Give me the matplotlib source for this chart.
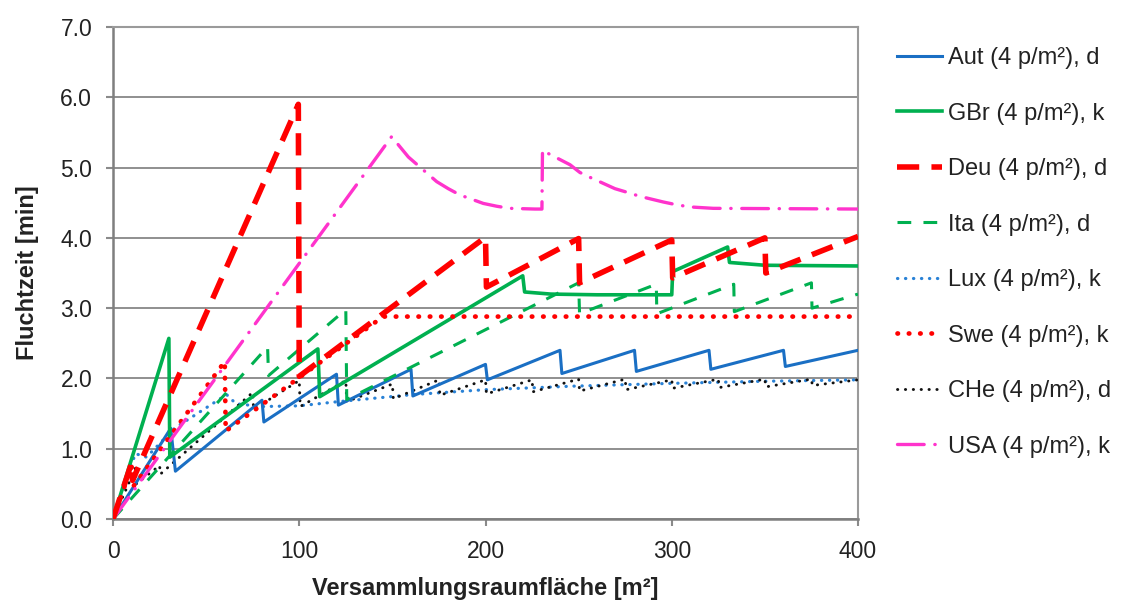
import matplotlib
matplotlib.use("Agg")
import matplotlib.pyplot as plt

plt.rcParams['font.family'] = ['Liberation Sans', 'DejaVu Sans']

# --- data (area in m², time in min) ---
aut_x = [0, 31, 33.5, 80, 81, 120, 121, 160, 161, 200, 201, 240, 241, 280, 281, 320, 321, 360, 361, 400]
aut_y = [0, 1.29, 0.68, 1.69, 1.38, 2.06, 1.62, 2.13, 1.75, 2.2, 1.98, 2.4, 2.07, 2.4, 2.1, 2.4, 2.13, 2.4, 2.17, 2.4]

gbr_x = [0, 30, 30.5, 110, 111, 220, 221, 235, 260, 300, 300.5, 330, 331, 350, 400]
gbr_y = [0, 2.57, 0.88, 2.42, 1.74, 3.46, 3.23, 3.2, 3.19, 3.19, 3.52, 3.87, 3.65, 3.61, 3.6]

deu_x = [0, 10, 10.5, 99.5, 100, 200, 200.5, 250, 250.5, 300, 300.5, 350, 350.5, 400]
deu_y = [0, 0.8, 0.55, 5.9, 2.03, 4.01, 3.3, 3.99, 3.36, 3.97, 3.43, 4.0, 3.5, 4.02]

ita_x = [0, 83, 83.5, 125, 125.5, 250, 250.5, 291.7, 292, 333.3, 333.6, 375, 375.3, 400]
ita_y = [0, 2.45, 2.04, 2.98, 1.7, 3.36, 2.92, 3.34, 2.92, 3.34, 2.95, 3.36, 3.0, 3.2]

lux_x = [0, 12, 18, 33, 61, 66, 80, 100, 121, 161, 200, 247, 300, 350, 400]
lux_y = [0, 0.93, 0.88, 1.29, 1.77, 1.64, 1.6, 1.61, 1.67, 1.77, 1.84, 1.89, 1.93, 1.96, 1.98]

swe_x = [0, 10, 10.5, 60, 60.5, 145, 400]
swe_y = [0, 0.75, 0.45, 2.24, 1.25, 2.88, 2.88]

che_x = [0, 12, 12.5, 25, 25.5, 75, 75.5, 100, 100.5, 125, 125.5, 150, 150.5, 175, 175.5,
         200, 200.5, 225, 225.5, 250, 250.5, 275, 275.5, 300, 300.5, 325, 325.5, 350, 350.5,
         375, 375.5, 400]
che_y = [0, 0.72, 0.5, 0.76, 0.64, 1.8, 1.56, 1.97, 1.6, 1.97, 1.67, 1.92, 1.71, 1.98, 1.76,
         1.98, 1.78, 1.98, 1.81, 1.99, 1.82, 1.99, 1.84, 1.98, 1.86, 1.99, 1.87, 1.99, 1.88,
         1.99, 1.9, 1.98]

usa_x = [0, 149.6, 158.6, 173.8, 180, 186.3, 198.8, 206, 213, 226.6, 230.3, 230.6, 233.7,
         245.4, 250.7, 257, 269.5, 275.8, 283, 295.5, 302.7, 309.8, 322.3, 400]
usa_y = [0, 5.44, 5.15, 4.8, 4.7, 4.61, 4.49, 4.45, 4.42, 4.41, 4.41, 5.25, 5.2,
         5.04, 4.93, 4.85, 4.7, 4.65, 4.59, 4.51, 4.47, 4.44, 4.42, 4.41]

labels = ["Aut (4 p/m²), d", "GBr (4 p/m²), k", "Deu (4 p/m²), d", "Ita (4 p/m²), d",
          "Lux (4 p/m²), k", "Swe (4 p/m²), k", "CHe (4 p/m²), d", "USA (4 p/m²), k"]

y_ticks = [0, 1, 2, 3, 4, 5, 6, 7]
x_ticks = [0, 100, 200, 300, 400]

# --- figure ---
fig = plt.figure(figsize=(11.21, 6.03), dpi=100)
ax = fig.add_axes([113 / 1121, 1 - 519 / 603, 745 / 1121, 492 / 603])

ax.plot(aut_x, aut_y, color='#1a6fc4', lw=2.2, label=labels[0], zorder=4)
ax.plot(gbr_x, gbr_y, color='#00b050', lw=2.6, label=labels[1], zorder=4)
ax.plot(deu_x, deu_y, color='#ff0000', lw=4.0, dashes=(4, 2.2), label=labels[2], zorder=5)
ax.plot(ita_x, ita_y, color='#00b050', lw=2.2, dashes=(4.5, 4), label=labels[3], zorder=4)
ax.plot(lux_x, lux_y, color='#2a82d6', lw=2.3, dashes=(0.1, 2.4), dash_capstyle='round',
        label=labels[4], zorder=3)
ax.plot(swe_x, swe_y, color='#ff0000', lw=3.4, dashes=(0.1, 2.3), dash_capstyle='round',
        label=labels[5], zorder=4)
ax.plot(che_x, che_y, color='#111111', lw=2.1, dashes=(0.1, 2.6), dash_capstyle='round',
        label=labels[6], zorder=3)
ax.plot(usa_x, usa_y, color='#ff33cc', lw=2.4, dashes=(8, 3.2, 0.1, 3.2), dash_capstyle='round',
        label=labels[7], zorder=4)

ax.set_xlim(0, 400)
ax.set_ylim(0, 7)
ax.set_xticks(x_ticks)
ax.set_yticks(y_ticks)
ax.set_yticklabels([f"{v:.1f}" for v in y_ticks])
ax.tick_params(labelsize=16.5, length=5, width=1.5, color='#8a8a8a', pad=10, labelcolor='#222222')

ax.grid(axis='y', color='#8f8f8f', lw=1.4)
ax.set_axisbelow(True)
for side in ['left', 'bottom']:
    ax.spines[side].set_color('#7f7f7f')
    ax.spines[side].set_linewidth(1.8)
for side in ['top', 'right']:
    ax.spines[side].set_color('#9a9a9a')
    ax.spines[side].set_linewidth(1.5)

fig.text(485 / 1121, 1 - 589 / 603, "Versammlungsraumfläche [m²]", ha='center', va='center',
         fontsize=17, fontweight='bold', color='#222222')
fig.text(28 / 1121, 1 - 273 / 603, "Fluchtzeit [min]", ha='center', va='center', rotation=90,
         fontsize=17, fontweight='bold', color='#222222')

fig.legend(loc='upper left', bbox_to_anchor=(897 / 1121, 1 - 47 / 603), frameon=False,
           fontsize=17, labelspacing=1.42, handlelength=1.9, handletextpad=0.25,
           borderpad=0, borderaxespad=0, labelcolor='#222222')

fig.savefig("out.png", dpi=100)
